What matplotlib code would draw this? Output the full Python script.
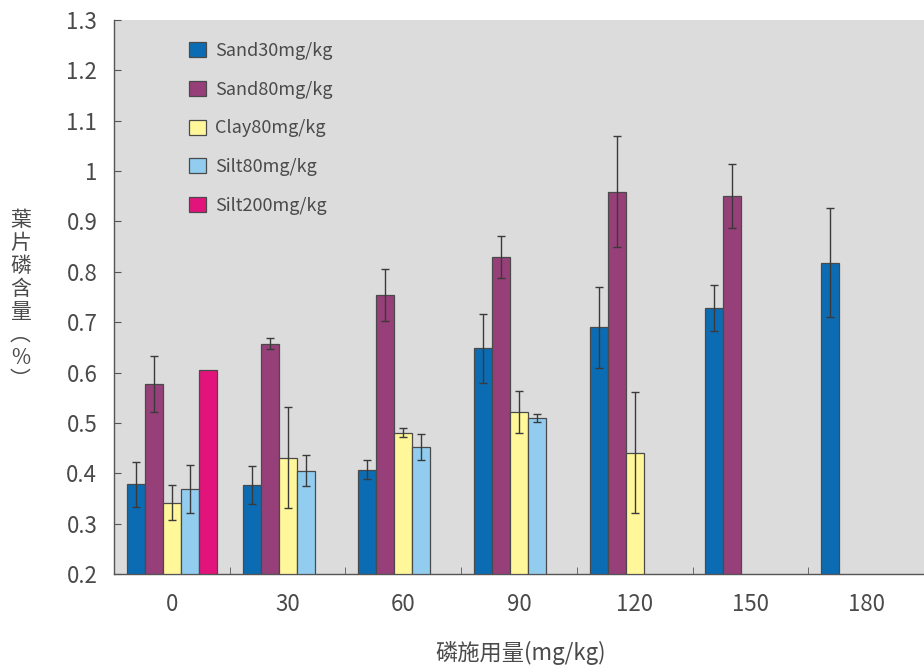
import matplotlib.pyplot as plt
import matplotlib.ticker as mticker
import numpy as np

plt.rcParams['font.family'] = ['Noto Sans CJK SC', 'DejaVu Sans']

categories = ['0', '30', '60', '90', '120', '150', '180']
series = ['Sand30mg/kg', 'Sand80mg/kg', 'Clay80mg/kg', 'Silt80mg/kg', 'Silt200mg/kg']
colors = ['#0c6cb3', '#973f78', '#fff799', '#92cdf0', '#e2147b']

nan = np.nan
sand30 = [0.378, 0.377, 0.407, 0.648, 0.690, 0.728, 0.818]
sand80 = [0.577, 0.657, 0.754, 0.830, 0.959, 0.951, nan]
clay80 = [0.342, 0.431, 0.481, 0.522, 0.441, nan, nan]
silt80 = [0.369, 0.405, 0.452, 0.509, nan, nan, nan]
silt200 = [0.605, nan, nan, nan, nan, nan, nan]

sand30_err = [0.044, 0.038, 0.019, 0.068, 0.080, 0.045, 0.108]
sand80_err = [0.056, 0.011, 0.052, 0.042, 0.110, 0.063, nan]
clay80_err = [0.034, 0.100, 0.008, 0.042, 0.120, nan, nan]
silt80_err = [0.047, 0.031, 0.026, 0.008, nan, nan, nan]
silt200_err = [nan, nan, nan, nan, nan, nan, nan]

values = [sand30, sand80, clay80, silt80, silt200]
errors = [sand30_err, sand80_err, clay80_err, silt80_err, silt200_err]

fig = plt.figure(figsize=(9.24, 6.72), dpi=100)
ax = fig.add_axes([0.1234, 0.1458, 0.8766, 0.8244])
ax.set_facecolor('#dcdcdc')

x = np.arange(len(categories))
w = 0.1556
for j, (name, vals, errs, col) in enumerate(zip(series, values, errors, colors)):
    vals = np.array(vals, dtype=float)
    errs = np.array(errs, dtype=float)
    ok = ~np.isnan(vals)
    pos = x[ok] + (j - 2) * w
    ax.bar(pos, vals[ok] - 0.2, bottom=0.2, width=w, color=col,
           edgecolor='#4a4a4a', linewidth=0.9, label=name, zorder=3)
    eok = ok & ~np.isnan(errs)
    if eok.any():
        ax.errorbar(x[eok] + (j - 2) * w, vals[eok], yerr=errs[eok], fmt='none',
                    ecolor='#3a3a3a', elinewidth=1.0, capsize=3, capthick=1.0, zorder=4)

ax.set_xlim(-0.5, len(categories) - 0.5)
ax.set_ylim(0.2, 1.3)
ax.set_yticks(np.arange(0.2, 1.31, 0.1))
ax.yaxis.set_major_formatter(mticker.FuncFormatter(lambda v, p: f'{v:g}'))
ax.set_xticks(x)
ax.set_xticklabels(categories)
ax.set_xticks(np.arange(0.5, len(categories) - 1, 1.0), minor=True)

for s in ['top', 'right']:
    ax.spines[s].set_visible(False)
for s in ['left', 'bottom']:
    ax.spines[s].set_color('#555555')
    ax.spines[s].set_linewidth(1.0)

ax.tick_params(axis='y', direction='in', length=5, color='#555555', labelsize=16,
               labelcolor='#4a4a4a', pad=12)
ax.tick_params(axis='x', which='major', length=0, labelsize=16, labelcolor='#4a4a4a', pad=14)
ax.tick_params(axis='x', which='minor', direction='in', length=5, color='#555555')

ylabel = '\n'.join(['葉', '片', '磷', '含', '量', '︵', '%', '︶'])
fig.text(0.022, 0.553, ylabel, fontsize=15, color='#4a4a4a', ha='center', va='center',
         linespacing=1.05)
fig.text(0.563, 0.028, '磷施用量(mg/kg)', fontsize=16, color='#4a4a4a', ha='center', va='center')

ax.legend(loc='upper left', bbox_to_anchor=(0.073, 0.99), frameon=False, fontsize=13,
          handlelength=0.9, handleheight=0.9, labelspacing=1.15, handletextpad=0.5,
          labelcolor='#4a4a4a')

fig.savefig('out.png', dpi=100)
